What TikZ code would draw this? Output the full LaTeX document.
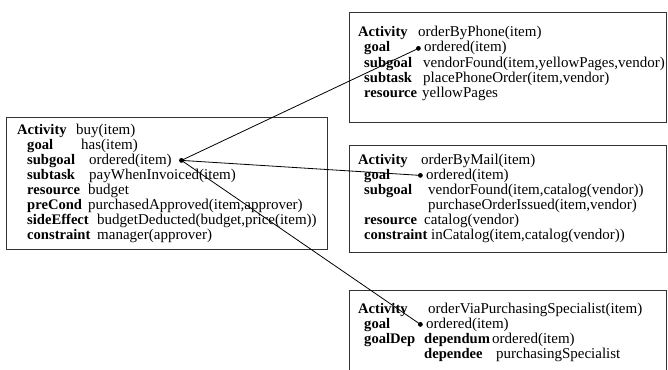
\documentclass[tikz,border=0pt]{standalone}
\usepackage{fontspec}
\setmainfont{Liberation Serif}
\usetikzlibrary{positioning}
\begin{document}
\begin{tikzpicture}[x=1pt, y=-1pt,
  every node/.style={inner sep=0pt, anchor=base west, font=\fontsize{15}{15}\selectfont},
  key/.style={font=\fontsize{14.6}{15}\selectfont\bfseries},
  frame/.style={draw=black!80, line width=1pt, anchor=north west},
  dot/.style={circle, fill, inner sep=1.7pt},
  link/.style={line width=0.8pt}]
\useasboundingbox (0,0) rectangle (668,369);

% frames
\node (buy)   [frame, minimum width=321pt, minimum height=132pt] at (6,117) {};
\node (phone) [frame, minimum width=317pt, minimum height=110pt] at (349,12) {};
\node (mail)  [frame, minimum width=317pt, minimum height=107pt] at (349,145) {};
\node (spec)  [frame, minimum width=317pt, minimum height=100pt] at (349,290) {};

% buy
\node (buyAct)  [key] at (17,134) {Activity};
\node (buyActV)       at (76,134) {buy(item)};
\node (buyGoal) [key] at (27,149) {goal};
\node (buyGoalV)      at (81,149) {has(item)};
\node (buySub)  [key] at (27,164) {subgoal};
\node (buySubV)       at (89,164) {ordered(item)};
\node (buyTask) [key] at (27,179) {subtask};
\node (buyTaskV)      at (89,179) {payWhenInvoiced(item)};
\node (buyRes)  [key] at (27,194) {resource};
\node (buyResV)       at (88,194) {budget};
\node (buyPre)  [key] at (27,209) {preCond};
\node (buyPreV)       at (88,209) {purchasedApproved(item,approver)};
\node (buySide) [key] at (27,224) {sideEffect};
\node (buySideV)      at (97,224) {budgetDeducted(budget,price(item))};
\node (buyCon)  [key] at (27,239) {constraint};
\node (buyConV)       at (97,239) {manager(approver)};

% orderByPhone
\node (phoneAct)  [key] at (358,37) {Activity};
\node (phoneActV)       at (418,37) {orderByPhone(item)};
\node (phoneGoal) [key] at (364,52) {goal};
\node (phoneGoalV)      at (424,52) {ordered(item)};
\node (phoneSub)  [key] at (364,67) {subgoal};
\node (phoneSubV)       at (423,67) {vendorFound(item,yellowPages,vendor)};
\node (phoneTask) [key] at (364,82) {subtask};
\node (phoneTaskV)      at (423,82) {placePhoneOrder(item,vendor)};
\node (phoneRes)  [key] at (364,97) {resource};
\node (phoneResV)       at (422,97) {yellowPages};

% orderByMail
\node (mailAct)  [key] at (358,164) {Activity};
\node (mailActV)       at (421,164) {orderByMail(item)};
\node (mailGoal) [key] at (364,179) {goal};
\node (mailGoalV)      at (426,179) {ordered(item)};
\node (mailSub)  [key] at (364,194) {subgoal};
\node (mailSubV)       at (428,194) {vendorFound(item,catalog(vendor))};
\node (mailSubW)       at (428,209) {purchaseOrderIssued(item,vendor)};
\node (mailRes)  [key] at (364,224) {resource};
\node (mailResV)       at (424,224) {catalog(vendor)};
\node (mailCon)  [key] at (364,239) {constraint};
\node (mailConV)       at (431,239) {inCatalog(item,catalog(vendor))};

% orderViaPurchasingSpecialist
\node (specAct)  [key] at (358,313) {Activity};
\node (specActV)       at (428,313) {orderViaPurchasingSpecialist(item)};
\node (specGoal) [key] at (364,328) {goal};
\node (specGoalV)      at (426,328) {ordered(item)};
\node (specDep)  [key] at (364,343) {goalDep};
\node (specDum)  [key] at (424,343) {dependum};
\node (specDumV)       at (492,343) {ordered(item)};
\node (specDee)  [key] at (424,358) {dependee};
\node (specDeeV)       at (496,358) {purchasingSpecialist};

% dots
\node (buyDot)   [dot, right=7pt of buySubV] {};
\node (phoneDot) [dot, left=3pt of phoneGoalV] {};
\node (mailDot)  [dot, left=3pt of mailGoalV] {};
\node (specDot)  [dot, left=3pt of specGoalV] {};

\draw[link] (buyDot.center) -- (phoneDot.center);
\draw[link] (buyDot.center) -- (mailDot.center);
\draw[link] (buyDot.center) -- (specDot.center);
\end{tikzpicture}
\end{document}
